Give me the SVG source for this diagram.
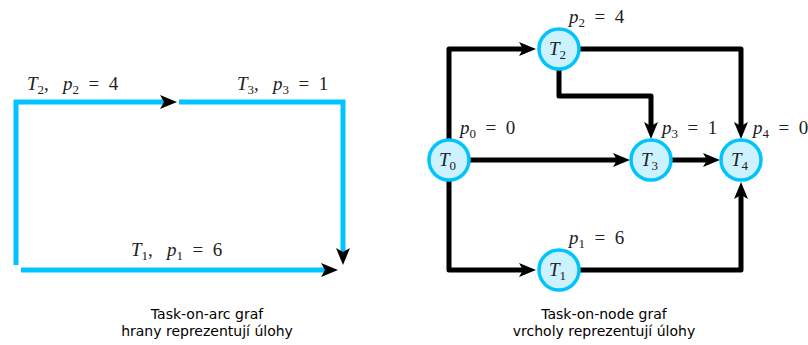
<svg xmlns="http://www.w3.org/2000/svg" width="808" height="345" viewBox="0 0 808 345">
<style>
.b{fill:none;stroke:#00c3ff;stroke-width:5}
.k{fill:none;stroke:#000;stroke-width:5;stroke-linejoin:round}
.m{font-family:"Liberation Serif",serif;font-size:19px;fill:#222;white-space:pre}
.i{font-style:italic}
.s{font-size:13px}
.n{fill:#ccf2ff;stroke:#00c3ff;stroke-width:3.5}
.c{font-family:"DejaVu Sans",sans-serif;font-size:14px;fill:#000;text-anchor:middle}
</style>
<defs>
<marker id="a" markerUnits="userSpaceOnUse" markerWidth="20" markerHeight="14" refX="4" refY="7" orient="auto">
<path d="M0,0 L17,7 L0,14 L4,7 Z" fill="#000"/>
</marker>
</defs>
<rect width="808" height="345" fill="#fff"/>
<g id="connectors">
<path class="b" d="M16,265 V102 H164" marker-end="url(#a)"/>
<path class="b" d="M179,102 H343 V252" marker-end="url(#a)"/>
<path class="b" d="M21,270 H325" marker-end="url(#a)"/>
<path class="k" d="M449,139 V49 H523" marker-end="url(#a)"/>
<path class="k" d="M449,181 V270 H523" marker-end="url(#a)"/>
<path class="k" d="M470,160 H617" marker-end="url(#a)"/>
<path class="k" d="M559,70 V96 H651 V126" marker-end="url(#a)"/>
<path class="k" d="M580,49 H741 V126" marker-end="url(#a)"/>
<path class="k" d="M672,160 H707" marker-end="url(#a)"/>
<path class="k" d="M580,270 H741 V195" marker-end="url(#a)"/>
</g>
<g id="arc-labels">
<text class="m" x="27" y="90"><tspan class="i">T</tspan><tspan class="s" dy="4">2</tspan><tspan dy="-4">,   </tspan><tspan class="i">p</tspan><tspan class="s" dy="4">2</tspan><tspan dy="-4">  =  4</tspan></text>
<text class="m" x="237" y="90"><tspan class="i">T</tspan><tspan class="s" dy="4">3</tspan><tspan dy="-4">,   </tspan><tspan class="i">p</tspan><tspan class="s" dy="4">3</tspan><tspan dy="-4">  =  1</tspan></text>
<text class="m" x="131" y="256"><tspan class="i">T</tspan><tspan class="s" dy="4">1</tspan><tspan dy="-4">,   </tspan><tspan class="i">p</tspan><tspan class="s" dy="4">1</tspan><tspan dy="-4">  =  6</tspan></text>
</g>
<g id="T0"><circle class="n" cx="449" cy="160" r="20"/><text class="m" x="439" y="166"><tspan class="i">T</tspan><tspan class="s" dy="4">0</tspan></text><text class="m" x="460" y="134"><tspan class="i">p</tspan><tspan class="s" dy="4">0</tspan><tspan dy="-4">  =  0</tspan></text></g>
<g id="T2"><circle class="n" cx="559" cy="49" r="20"/><text class="m" x="549" y="55"><tspan class="i">T</tspan><tspan class="s" dy="4">2</tspan></text><text class="m" x="569" y="23"><tspan class="i">p</tspan><tspan class="s" dy="4">2</tspan><tspan dy="-4">  =  4</tspan></text></g>
<g id="T3"><circle class="n" cx="651" cy="160" r="20"/><text class="m" x="641" y="166"><tspan class="i">T</tspan><tspan class="s" dy="4">3</tspan></text><text class="m" x="662" y="134"><tspan class="i">p</tspan><tspan class="s" dy="4">3</tspan><tspan dy="-4">  =  1</tspan></text></g>
<g id="T4"><circle class="n" cx="741" cy="160" r="20"/><text class="m" x="731" y="166"><tspan class="i">T</tspan><tspan class="s" dy="4">4</tspan></text><text class="m" x="753" y="134"><tspan class="i">p</tspan><tspan class="s" dy="4">4</tspan><tspan dy="-4">  =  0</tspan></text></g>
<g id="T1"><circle class="n" cx="559" cy="270" r="20"/><text class="m" x="549" y="276"><tspan class="i">T</tspan><tspan class="s" dy="4">1</tspan></text><text class="m" x="569" y="244"><tspan class="i">p</tspan><tspan class="s" dy="4">1</tspan><tspan dy="-4">  =  6</tspan></text></g>
<g id="captions">
<text class="c" x="207" y="319">Task-on-arc graf</text>
<text class="c" x="207" y="336">hrany reprezentují úlohy</text>
<text class="c" x="604" y="319">Task-on-node graf</text>
<text class="c" x="604" y="336">vrcholy reprezentují úlohy</text>
</g>
</svg>
